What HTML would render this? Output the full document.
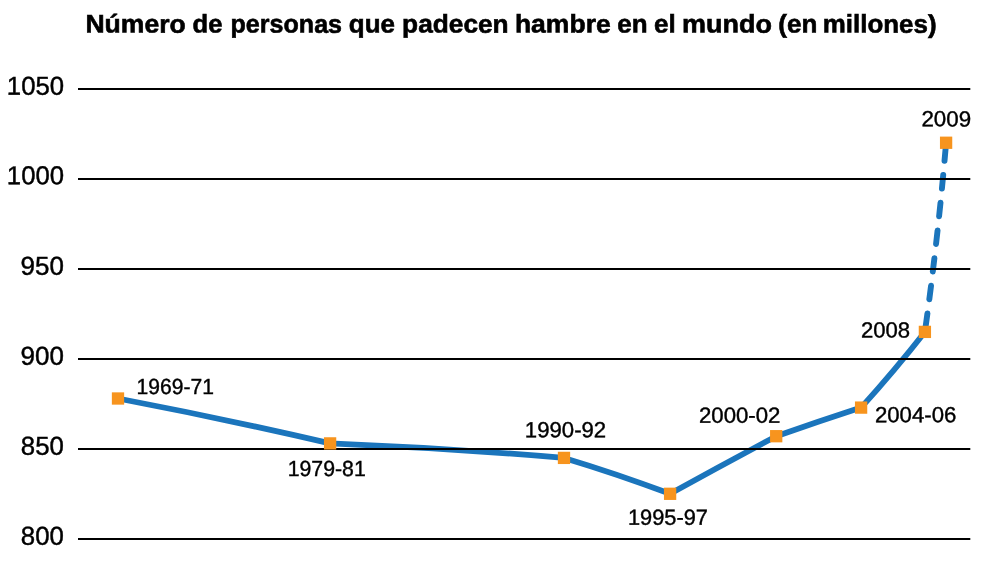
<!DOCTYPE html><html><head><meta charset="utf-8"><title>Número de personas que padecen hambre en el mundo</title>
<style>html,body{margin:0;padding:0;background:#fff;}svg{display:block}text{font-family:"Liberation Sans",sans-serif;fill:#000;text-rendering:geometricPrecision}</style></head><body>
<svg width="998" height="579" viewBox="0 0 998 579">
<rect width="998" height="579" fill="#fff"/>
<path d="M118,398.5 Q224.05,418.75 330.1,443.4 Q447.05,448.05 564,457.9 Q617.05,473.85 670.1,493.8 Q723.15,464.40 776.2,436.2 Q818.65,421.50 861.1,407.6 Q895.20,369.75 924.9,331.9" fill="none" stroke="#1b75bc" stroke-width="5.75" stroke-linejoin="round"/>
<path d="M946.1,142.75 Q938.10,237.32 924.9,331.9" fill="none" stroke="#1b75bc" stroke-width="5.9" stroke-linecap="round" stroke-dasharray="13.6 14.25" stroke-dashoffset="-4.6"/>
<line x1="78" y1="89" x2="970.3" y2="89" stroke="#000" stroke-width="2.1"/>
<line x1="78" y1="179" x2="970.3" y2="179" stroke="#000" stroke-width="2.1"/>
<line x1="78" y1="269" x2="970.3" y2="269" stroke="#000" stroke-width="2.1"/>
<line x1="78" y1="359" x2="970.3" y2="359" stroke="#000" stroke-width="2.1"/>
<line x1="78" y1="449" x2="970.3" y2="449" stroke="#000" stroke-width="2.1"/>
<line x1="78" y1="539" x2="970.3" y2="539" stroke="#000" stroke-width="2.1"/>
<rect x="111.85" y="392.35" width="12.3" height="12.3" fill="#f7941e"/>
<rect x="323.95" y="437.25" width="12.3" height="12.3" fill="#f7941e"/>
<rect x="557.85" y="451.75" width="12.3" height="12.3" fill="#f7941e"/>
<rect x="663.95" y="487.65" width="12.3" height="12.3" fill="#f7941e"/>
<rect x="770.05" y="430.05" width="12.3" height="12.3" fill="#f7941e"/>
<rect x="854.95" y="401.45" width="12.3" height="12.3" fill="#f7941e"/>
<rect x="918.75" y="325.75" width="12.3" height="12.3" fill="#f7941e"/>
<rect x="939.95" y="136.60" width="12.3" height="12.3" fill="#f7941e"/>
<text x="136.6" y="393.73" transform="matrix(1,0.0005,0,1,0,0)" font-size="21.8" stroke="#000" stroke-width="0.4" textLength="77.34" lengthAdjust="spacingAndGlyphs">1969-71</text>
<text x="287.67" y="475.86" transform="matrix(1,0.0005,0,1,0,0)" font-size="21.8" stroke="#000" stroke-width="0.4" textLength="78.09" lengthAdjust="spacingAndGlyphs">1979-81</text>
<text x="524.83" y="437.06" transform="matrix(1,0.0005,0,1,0,0)" font-size="21.8" stroke="#000" stroke-width="0.4" textLength="81.38" lengthAdjust="spacingAndGlyphs">1990-92</text>
<text x="627.99" y="524.33" transform="matrix(1,0.0005,0,1,0,0)" font-size="21.8" stroke="#000" stroke-width="0.4" textLength="79.97" lengthAdjust="spacingAndGlyphs">1995-97</text>
<text x="698.96" y="422.34" transform="matrix(1,0.0005,0,1,0,0)" font-size="21.8" stroke="#000" stroke-width="0.4" textLength="81.46" lengthAdjust="spacingAndGlyphs">2000-02</text>
<text x="874.93" y="421.90" transform="matrix(1,0.0005,0,1,0,0)" font-size="21.8" stroke="#000" stroke-width="0.4" textLength="81.51" lengthAdjust="spacingAndGlyphs">2004-06</text>
<text x="860.94" y="337.03" transform="matrix(1,0.0005,0,1,0,0)" font-size="21.8" stroke="#000" stroke-width="0.4" textLength="49.22" lengthAdjust="spacingAndGlyphs">2008</text>
<text x="921.41" y="125.91" transform="matrix(1,0.0005,0,1,0,0)" font-size="21.8" stroke="#000" stroke-width="0.4" textLength="49.72" lengthAdjust="spacingAndGlyphs">2009</text>
<text x="6.84" y="94.64" transform="matrix(1,0.0005,0,1,0,0)" font-size="26.0" stroke="#000" stroke-width="0.45" textLength="57.23" lengthAdjust="spacingAndGlyphs">1050</text>
<text x="6.84" y="184.33" transform="matrix(1,0.0005,0,1,0,0)" font-size="26.0" stroke="#000" stroke-width="0.45" textLength="57.23" lengthAdjust="spacingAndGlyphs">1000</text>
<text x="20.6" y="274.65" transform="matrix(1,0.0005,0,1,0,0)" font-size="26.0" stroke="#000" stroke-width="0.45" textLength="43.39" lengthAdjust="spacingAndGlyphs">950</text>
<text x="20.6" y="364.65" transform="matrix(1,0.0005,0,1,0,0)" font-size="26.0" stroke="#000" stroke-width="0.45" textLength="43.39" lengthAdjust="spacingAndGlyphs">900</text>
<text x="20.84" y="454.64" transform="matrix(1,0.0005,0,1,0,0)" font-size="26.0" stroke="#000" stroke-width="0.45" textLength="43.08" lengthAdjust="spacingAndGlyphs">850</text>
<text x="20.84" y="544.65" transform="matrix(1,0.0005,0,1,0,0)" font-size="26.0" stroke="#000" stroke-width="0.45" textLength="43.08" lengthAdjust="spacingAndGlyphs">800</text>
<text transform="matrix(1,0.0005,0,1,0,0)" font-size="25.5" font-weight="bold" stroke="#000" stroke-width="0.6"><tspan x="85.4" y="32.56" textLength="100.44" lengthAdjust="spacingAndGlyphs">Número</tspan> <tspan x="192.6" y="32.50" textLength="29.86" lengthAdjust="spacingAndGlyphs">de</tspan> <tspan x="230.56" y="32.48" textLength="111.51" lengthAdjust="spacingAndGlyphs">personas</tspan> <tspan x="348.81" y="32.43" textLength="46.16" lengthAdjust="spacingAndGlyphs">que</tspan> <tspan x="402.1" y="32.40" textLength="106.59" lengthAdjust="spacingAndGlyphs">padecen</tspan> <tspan x="514.93" y="32.34" textLength="95.78" lengthAdjust="spacingAndGlyphs">hambre</tspan> <tspan x="617.24" y="32.29" textLength="30.29" lengthAdjust="spacingAndGlyphs">en</tspan> <tspan x="654.02" y="32.27" textLength="21.67" lengthAdjust="spacingAndGlyphs">el</tspan> <tspan x="681.98" y="32.26" textLength="90.0" lengthAdjust="spacingAndGlyphs">mundo</tspan> <tspan x="778.36" y="32.21" textLength="39.02" lengthAdjust="spacingAndGlyphs">(en</tspan> <tspan x="822.74" y="32.19" textLength="113.81" lengthAdjust="spacingAndGlyphs">millones)</tspan></text>
</svg></body></html>
